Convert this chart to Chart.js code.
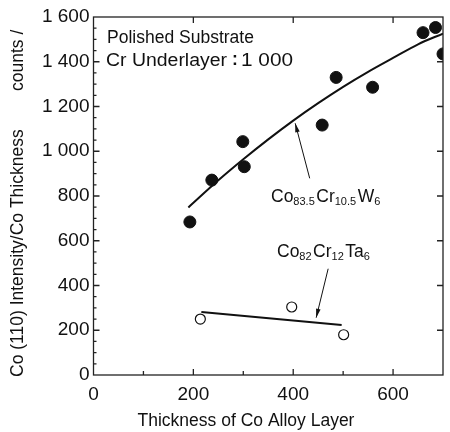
<!DOCTYPE html>
<html>
<head>
<meta charset="utf-8">
<script src="https://cdn.jsdelivr.net/npm/chart.js@4.4.1/dist/chart.umd.min.js"></script>
<style>
  html, body { margin: 0; padding: 0; background: #fff; }
  #wrap { width: 450px; height: 432px; }
</style>
</head>
<body>
<div id="wrap"><canvas id="chart" width="450" height="432"></canvas></div>
<script>
// --- data ---
const xTicks = [0, 200, 400, 600];
const yTicks = [0, 200, 400, 600, 800, 1000, 1200, 1400, 1600];

// Co83.5 Cr10.5 W6 (filled circles)
const wX = [193, 237, 299, 302, 458, 486, 559, 660, 685, 700];
const wY = [684, 871, 1043, 931, 1117, 1330, 1286, 1530, 1553, 1435];
// fitted curve through the filled circles
const wFitX = [190, 250, 300, 350, 400, 450, 500, 550, 600, 650, 700];
const wFitY = [749, 870, 964, 1053, 1137, 1215, 1288, 1355, 1417, 1478, 1526];

// Co82 Cr12 Ta6 (open circles)
const taX = [214, 397, 501];
const taY = [250, 304, 180];
const taFitX = [216, 497];
const taFitY = [282, 224];

// arrows for the labels, [tailX, tailY, tipX, tipY] in data units
const arrowW = [433, 879, 404, 1125];
const arrowTa = [470, 475, 446, 256];

const FONT = '"Liberation Sans", Arial, sans-serif';
const INK = '#111';

const toPts = (xs, ys) => xs.map((x, i) => ({ x: x, y: ys[i] }));

// text squeezed/stretched to a given width
function textToWidth(ctx, txt, x, y, w) {
    const m = ctx.measureText(txt).width;
    ctx.save();
    ctx.translate(x, y);
    ctx.scale(w / m, 1);
    ctx.fillText(txt, 0, 0);
    ctx.restore();
}

// frame, inward ticks, titles and labels
const decorPlugin = {
    id: 'decor',
    afterDraw(chart) {
        const ctx = chart.ctx;
        const { left, right, top, bottom } = chart.chartArea;
        const xs = chart.scales.x, ys = chart.scales.y;

        ctx.save();
        ctx.strokeStyle = '#222';
        ctx.lineWidth = 1.3;
        ctx.strokeRect(left, top, right - left, bottom - top);

        ctx.beginPath();
        // bottom: major + minor, top: major only
        for (let v = 100; v < 700; v += 100) {
            const px = xs.getPixelForValue(v);
            const len = v % 200 === 0 ? 6 : 4;
            ctx.moveTo(px, bottom); ctx.lineTo(px, bottom - len);
            if (v % 200 === 0) { ctx.moveTo(px, top); ctx.lineTo(px, top + 6); }
        }
        // left: major + minor, right: major only
        for (let v = 50; v < 1600; v += 50) {
            const py = ys.getPixelForValue(v);
            const major = v % 200 === 0;
            ctx.moveTo(left, py); ctx.lineTo(left + (major ? 6 : 3), py);
            if (major) { ctx.moveTo(right, py); ctx.lineTo(right - 6, py); }
        }
        ctx.stroke();

        // arrows
        ctx.strokeStyle = INK;
        ctx.fillStyle = INK;
        ctx.lineWidth = 1;
        [arrowW, arrowTa].forEach(a => {
            const x1 = xs.getPixelForValue(a[0]), y1 = ys.getPixelForValue(a[1]);
            const x2 = xs.getPixelForValue(a[2]), y2 = ys.getPixelForValue(a[3]);
            const ang = Math.atan2(y2 - y1, x2 - x1);
            ctx.beginPath();
            ctx.moveTo(x1, y1); ctx.lineTo(x2, y2);
            ctx.stroke();
            ctx.beginPath();
            ctx.moveTo(x2, y2);
            ctx.lineTo(x2 - 9 * Math.cos(ang) + 2.3 * Math.sin(ang), y2 - 9 * Math.sin(ang) - 2.3 * Math.cos(ang));
            ctx.lineTo(x2 - 9 * Math.cos(ang) - 2.3 * Math.sin(ang), y2 - 9 * Math.sin(ang) + 2.3 * Math.cos(ang));
            ctx.closePath();
            ctx.fill();
        });

        // text
        ctx.fillStyle = INK;
        ctx.textBaseline = 'alphabetic';
        ctx.textAlign = 'left';
        ctx.font = '17.5px ' + FONT;
        ctx.fillText('Polished Substrate', 107, 43);
        textToWidth(ctx, 'Cr Underlayer', 106, 66, 121);
        textToWidth(ctx, '1 000', 241, 66, 52);
        ctx.font = 'bold 17.5px ' + FONT;
        ctx.fillText(':', 232, 65);
        ctx.font = '17.5px ' + FONT;

        ctx.textAlign = 'center';
        ctx.fillText('Thickness of Co Alloy Layer', 246, 426);

        // y title, rotated
        ctx.save();
        ctx.translate(23, 0);
        ctx.rotate(-Math.PI / 2);
        ctx.textAlign = 'left';
        ctx.fillText('Co (110) Intensity/Co Thickness', -377, 0);
        ctx.fillText('counts /', -91, 0);
        ctx.restore();

        drawRich(ctx, [['Co', 0], ['83.5', 1], ['Cr', 0], ['10.5', 1], ['W', 0], ['6', 1]], 271, 202);
        drawRich(ctx, [['Co', 0], ['82', 1], ['Cr', 0], ['12', 1], ['Ta', 0], ['6', 1]], 277, 257);
        ctx.restore();
    }
};

function drawRich(ctx, parts, x, y) {
    ctx.textAlign = 'left';
    parts.forEach(p => {
        if (p[1]) {
            ctx.font = '11px ' + FONT;
            ctx.fillText(p[0], x, y + 3);
            x += ctx.measureText(p[0]).width + 1.5;
        } else {
            ctx.font = '17.5px ' + FONT;
            ctx.fillText(p[0], x, y);
            x += ctx.measureText(p[0]).width;
        }
    });
}

const tickFmt = v => {
    const s = String(v);
    return s.length > 3 ? s.slice(0, s.length - 3) + ' ' + s.slice(-3) : s;
};

new Chart(document.getElementById('chart'), {
    type: 'scatter',
    data: {
        datasets: [
            {
                data: toPts(wFitX, wFitY), showLine: true, pointRadius: 0,
                borderColor: INK, borderWidth: 2, tension: 0.4, cubicInterpolationMode: 'monotone'
            },
            {
                data: toPts(wX, wY), pointRadius: 6, pointBackgroundColor: INK,
                pointBorderColor: INK, pointBorderWidth: 1
            },
            {
                data: toPts(taFitX, taFitY), showLine: true, pointRadius: 0,
                borderColor: INK, borderWidth: 2
            },
            {
                data: toPts(taX, taY), pointRadius: 5, pointBackgroundColor: '#fff',
                pointBorderColor: INK, pointBorderWidth: 1.2
            }
        ]
    },
    options: {
        responsive: false,
        animation: false,
        layout: { padding: { left: 0, right: 2, top: 17, bottom: 0 } },
        plugins: { legend: { display: false }, tooltip: { enabled: false } },
        scales: {
            x: {
                type: 'linear', min: 0, max: 700,
                grid: { display: false, drawTicks: false },
                border: { display: false },
                afterBuildTicks: s => { s.ticks = xTicks.map(v => ({ value: v })); },
                afterFit: s => { s.height = 57; },
                ticks: {
                    color: INK, padding: 8, maxRotation: 0,
                    font: { family: FONT, size: 19 },
                    callback: v => tickFmt(v)
                }
            },
            y: {
                type: 'linear', min: 0, max: 1600,
                grid: { display: false, drawTicks: false },
                border: { display: false },
                afterBuildTicks: s => { s.ticks = yTicks.map(v => ({ value: v })); },
                afterFit: s => { s.width = 93.5; },
                ticks: {
                    color: INK, padding: 4,
                    font: { family: FONT, size: 19 },
                    callback: v => tickFmt(v)
                }
            }
        }
    },
    plugins: [decorPlugin]
});
</script>
</body>
</html>
